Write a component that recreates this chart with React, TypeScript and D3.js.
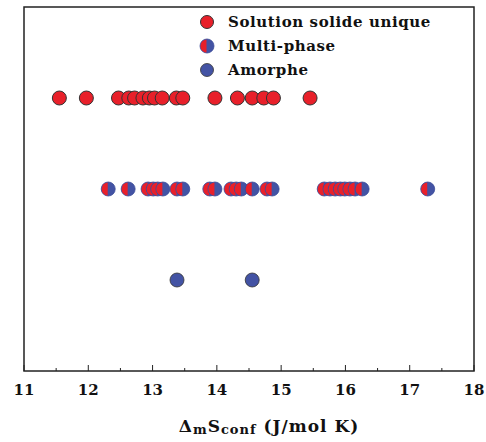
import React, { useEffect, useRef } from "react";
import * as d3 from "d3";

const categories = ["Solution solide unique", "Multi-phase", "Amorphe"];
const solutionSolide = [11.55, 11.97, 12.47, 12.63, 12.72, 12.85, 12.95, 13.03, 13.15, 13.37, 13.47, 13.97, 14.32, 14.55, 14.73, 14.88, 15.45];
const multiPhase = [12.31, 12.62, 12.93, 13.01, 13.08, 13.16, 13.38, 13.47, 13.89, 13.97, 14.22, 14.30, 14.38, 14.55, 14.78, 14.86, 15.67, 15.76, 15.84, 15.92, 15.99, 16.07, 16.15, 16.26, 17.28];
const amorphe = [13.38, 14.55];
const xTicks = [11, 12, 13, 14, 15, 16, 17, 18];

const RED = "#e8202a";
const BLUE = "#4353a4";
const W = 486, H = 442;
const M = { left: 24, right: 474, top: 7, bottom: 371 };

export default function App() {
  const ref = useRef<SVGSVGElement>(null);
  useEffect(() => {
    const svg = d3.select(ref.current);
    svg.selectAll("*").remove();
    const x = d3.scaleLinear().domain([11, 18]).range([M.left, M.right]);
    const y = d3.scalePoint().domain(categories).range([98, 280]);
    const r = 7;
    const font = "'DejaVu Serif', serif";

    // frame
    svg.append("rect").attr("x", M.left).attr("y", M.top).attr("width", M.right - M.left).attr("height", M.bottom - M.top)
      .attr("fill", "none").attr("stroke", "#222").attr("stroke-width", 1.5);

    // ticks
    const minor = d3.range(11, 18.01, 0.5);
    svg.append("g").selectAll("line").data(minor).join("line")
      .attr("x1", d => x(d)).attr("x2", d => x(d))
      .attr("y1", M.bottom).attr("y2", d => M.bottom - (Number.isInteger(d) ? 6 : 3))
      .attr("stroke", "#222").attr("stroke-width", 1);
    svg.append("g").selectAll("text").data(xTicks).join("text")
      .attr("x", d => x(d)).attr("y", 395).attr("text-anchor", "middle")
      .attr("font-family", font).attr("font-weight", "bold").attr("font-size", 15).attr("fill", "#111")
      .text(d => String(d));

    // axis label
    const lab = svg.append("text").attr("x", 269).attr("y", 432).attr("text-anchor", "middle")
      .attr("font-family", font).attr("font-weight", "bold").attr("font-size", 17).attr("fill", "#111")
      .attr("letter-spacing", 1);
    lab.append("tspan").text("Δ");
    lab.append("tspan").attr("font-size", 13).attr("dy", 2).text("m");
    lab.append("tspan").attr("font-size", 17).attr("dy", -2).text("S");
    lab.append("tspan").attr("font-size", 13).attr("dy", 2).text("conf");
    lab.append("tspan").attr("font-size", 17).attr("dy", -2).text(" (J/mol K)");

    const defs = svg.append("defs");
    const cp = defs.append("clipPath").attr("id", "lefthalf");
    cp.append("rect").attr("x", -r - 1).attr("y", -r - 1).attr("width", r + 0.5).attr("height", 2 * r + 2);

    function drawMulti(g: any, cx: number, cy: number) {
      const m = g.append("g").attr("transform", `translate(${cx},${cy})`);
      m.append("circle").attr("r", r).attr("fill", BLUE).attr("stroke", "#3a4a98").attr("stroke-width", 0.8);
      m.append("circle").attr("r", r - 0.4).attr("fill", RED).attr("clip-path", "url(#lefthalf)");
    }

    const gRed = svg.append("g");
    gRed.selectAll("circle").data(solutionSolide).join("circle")
      .attr("cx", d => x(d)).attr("cy", y(categories[0])!).attr("r", r)
      .attr("fill", RED).attr("stroke", "#333").attr("stroke-width", 1);

    const gMulti = svg.append("g") as any;
    multiPhase.forEach(v => drawMulti(gMulti, x(v), y(categories[1])!));

    svg.append("g").selectAll("circle").data(amorphe).join("circle")
      .attr("cx", d => x(d)).attr("cy", y(categories[2])!).attr("r", r)
      .attr("fill", BLUE).attr("stroke", "#333").attr("stroke-width", 0.8);

    // legend
    const ly = [22, 46, 70];
    const lx = 207;
    svg.append("circle").attr("cx", lx).attr("cy", ly[0]).attr("r", 6.5).attr("fill", RED).attr("stroke", "#333").attr("stroke-width", 1);
    drawMulti(svg.append("g"), lx, ly[1]);
    svg.append("circle").attr("cx", lx).attr("cy", ly[2]).attr("r", 6.5).attr("fill", BLUE).attr("stroke", "#333").attr("stroke-width", 0.8);
    svg.append("g").selectAll("text").data(categories).join("text")
      .attr("x", 228).attr("y", (d, i) => ly[i] + 5)
      .attr("font-family", font).attr("font-weight", "bold").attr("font-size", 15).attr("fill", "#111")
      .attr("letter-spacing", 0.6)
      .text(d => d);
  }, []);
  return (
    <svg ref={ref} width={W} height={H} style={{ position: "absolute", left: 0, top: 0, background: "#fff" }} />
  );
}
